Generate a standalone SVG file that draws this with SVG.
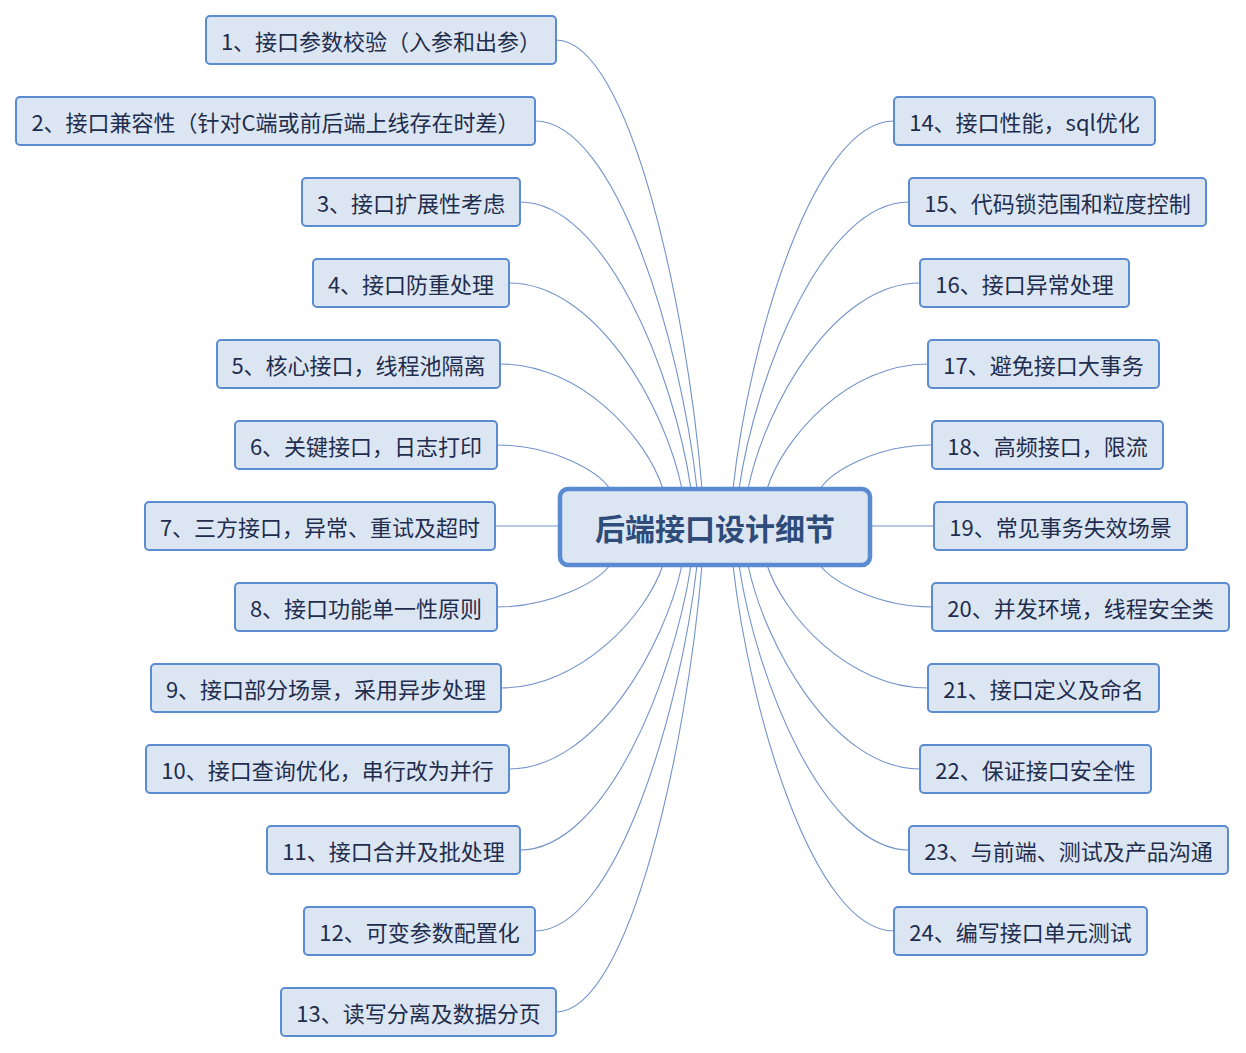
<svg xmlns="http://www.w3.org/2000/svg" width="1246" height="1053" viewBox="0 0 1246 1053">
<style>
.n rect{fill:#dce6f2;stroke:#5b8bd0;stroke-width:2}
.n text{font-family:"Microsoft YaHei","Noto Sans CJK SC","Noto Sans",sans-serif;font-size:22px;fill:#1f2d4e;text-anchor:middle;dominant-baseline:central}
#root rect{fill:#dce6f2;stroke:#5a8ad2;stroke-width:4.5}
#root text{font-family:"Noto Sans CJK SC",sans-serif;font-size:30px;font-weight:bold;fill:#2e4b7a;text-anchor:middle;dominant-baseline:central}
#links path{fill:none;stroke:#7393c9;stroke-width:1.1}
</style>
<rect width="1246" height="1053" fill="#ffffff"/>
<g id="links">
<path d="M556,40 C629.5,40 687.3,308.2 702,489"/>
<path d="M535,121 C616,121 680.8,341.8 697,489"/>
<path d="M520,202 C605.5,202 673.9,373 691,489"/>
<path d="M509,283 C595.5,283 664.7,405.4 682,489"/>
<path d="M500,364 C581.5,364 646.7,437.8 663,489"/>
<path d="M497,445 C553.5,445 598.7,471.4 610,489"/>
<path d="M495,526 L562,526"/>
<path d="M497,607 C553.5,607 598.7,580.6 610,565"/>
<path d="M500,688 C581.5,688 646.7,614.2 663,565"/>
<path d="M509,769 C595.5,769 664.7,646.6 682,565"/>
<path d="M520,850 C605.5,850 673.9,679 691,565"/>
<path d="M535,931 C616,931 680.8,710.2 697,565"/>
<path d="M556,1012 C629.5,1012 687.3,743.8 702,565"/>
<path d="M894,121 C813.5,121 749.1,341.8 733,489"/>
<path d="M909,202 C824,202 756,373 739,489"/>
<path d="M920,283 C834,283 765.2,405.4 748,489"/>
<path d="M928,364 C847.5,364 783.1,437.8 767,489"/>
<path d="M932,445 C876,445 831.2,471.4 820,489"/>
<path d="M934,526 L868,526"/>
<path d="M932,607 C876,607 831.2,580.6 820,565"/>
<path d="M928,688 C847.5,688 783.1,614.2 767,565"/>
<path d="M920,769 C834,769 765.2,646.6 748,565"/>
<path d="M909,850 C824,850 756,679 739,565"/>
<path d="M894,931 C813.5,931 749.1,710.2 733,565"/>
</g>
<g id="root"><rect x="560" y="489" width="310" height="76" rx="8"/><text x="715" y="527">后端接口设计细节</text></g>
<g id="n1" class="n"><rect x="206" y="16" width="350" height="48" rx="4"/><text x="381" y="40">1、接口参数校验（入参和出参）</text></g>
<g id="n2" class="n"><rect x="16" y="97" width="519" height="48" rx="4"/><text x="275.5" y="121">2、接口兼容性（针对C端或前后端上线存在时差）</text></g>
<g id="n3" class="n"><rect x="302" y="178" width="218" height="48" rx="4"/><text x="411" y="202">3、接口扩展性考虑</text></g>
<g id="n4" class="n"><rect x="313" y="259" width="196" height="48" rx="4"/><text x="411" y="283">4、接口防重处理</text></g>
<g id="n5" class="n"><rect x="217" y="340" width="283" height="48" rx="4"/><text x="358.5" y="364">5、核心接口，线程池隔离</text></g>
<g id="n6" class="n"><rect x="235" y="421" width="262" height="48" rx="4"/><text x="366" y="445">6、关键接口，日志打印</text></g>
<g id="n7" class="n"><rect x="145" y="502" width="350" height="48" rx="4"/><text x="320" y="526">7、三方接口，异常、重试及超时</text></g>
<g id="n8" class="n"><rect x="235" y="583" width="262" height="48" rx="4"/><text x="366" y="607">8、接口功能单一性原则</text></g>
<g id="n9" class="n"><rect x="151" y="664" width="350" height="48" rx="4"/><text x="326" y="688">9、接口部分场景，采用异步处理</text></g>
<g id="n10" class="n"><rect x="146" y="745" width="363" height="48" rx="4"/><text x="327.5" y="769">10、接口查询优化，串行改为并行</text></g>
<g id="n11" class="n"><rect x="267" y="826" width="253" height="48" rx="4"/><text x="393.5" y="850">11、接口合并及批处理</text></g>
<g id="n12" class="n"><rect x="304" y="907" width="231" height="48" rx="4"/><text x="419.5" y="931">12、可变参数配置化</text></g>
<g id="n13" class="n"><rect x="281" y="988" width="275" height="48" rx="4"/><text x="418.5" y="1012">13、读写分离及数据分页</text></g>
<g id="n14" class="n"><rect x="894" y="97" width="261" height="48" rx="4"/><text x="1024.5" y="121">14、接口性能，sql优化</text></g>
<g id="n15" class="n"><rect x="909" y="178" width="297" height="48" rx="4"/><text x="1057.5" y="202">15、代码锁范围和粒度控制</text></g>
<g id="n16" class="n"><rect x="920" y="259" width="209" height="48" rx="4"/><text x="1024.5" y="283">16、接口异常处理</text></g>
<g id="n17" class="n"><rect x="928" y="340" width="231" height="48" rx="4"/><text x="1043.5" y="364">17、避免接口大事务</text></g>
<g id="n18" class="n"><rect x="932" y="421" width="231" height="48" rx="4"/><text x="1047.5" y="445">18、高频接口，限流</text></g>
<g id="n19" class="n"><rect x="934" y="502" width="253" height="48" rx="4"/><text x="1060.5" y="526">19、常见事务失效场景</text></g>
<g id="n20" class="n"><rect x="932" y="583" width="297" height="48" rx="4"/><text x="1080.5" y="607">20、并发环境，线程安全类</text></g>
<g id="n21" class="n"><rect x="928" y="664" width="231" height="48" rx="4"/><text x="1043.5" y="688">21、接口定义及命名</text></g>
<g id="n22" class="n"><rect x="920" y="745" width="231" height="48" rx="4"/><text x="1035.5" y="769">22、保证接口安全性</text></g>
<g id="n23" class="n"><rect x="909" y="826" width="319" height="48" rx="4"/><text x="1068.5" y="850">23、与前端、测试及产品沟通</text></g>
<g id="n24" class="n"><rect x="894" y="907" width="253" height="48" rx="4"/><text x="1020.5" y="931">24、编写接口单元测试</text></g>
</svg>
